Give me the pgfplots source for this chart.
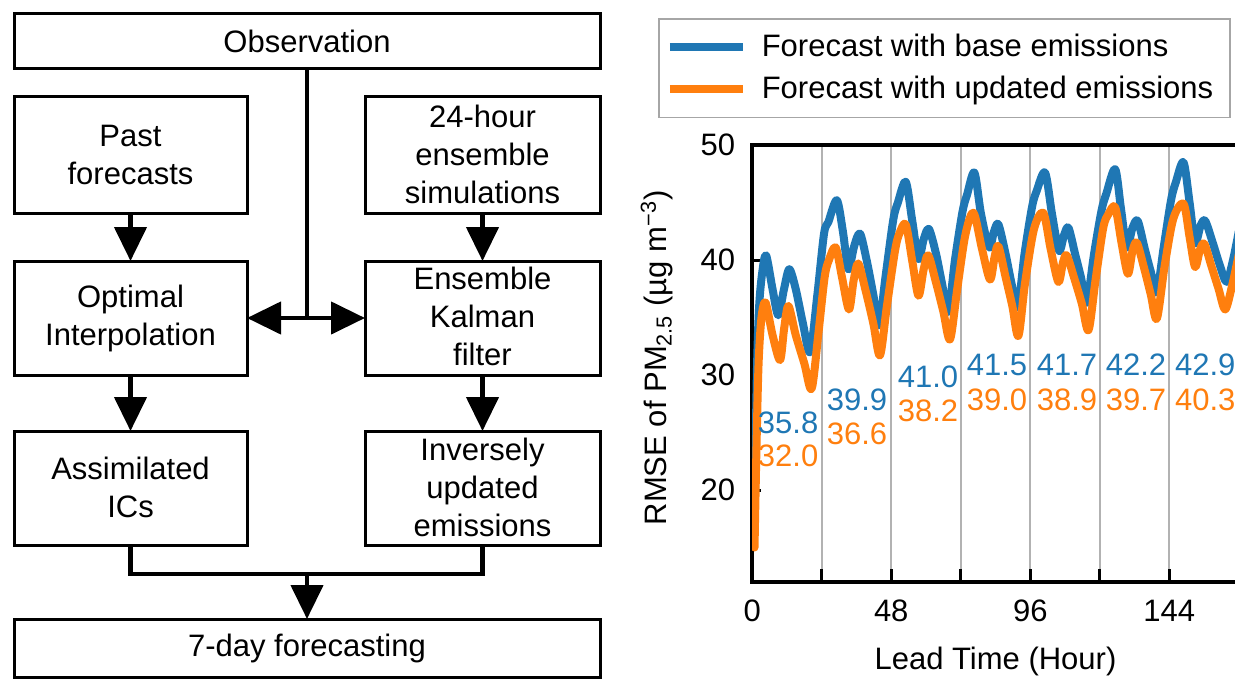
\documentclass[border=0pt]{standalone}
\usepackage{fontspec}
\setmainfont{Liberation Sans}
\usepackage{pgfplots}
\pgfplotsset{compat=1.18}
\usetikzlibrary{arrows.meta}
\definecolor{cblue}{RGB}{31,119,180}
\definecolor{corange}{RGB}{255,127,14}
\newcommand\F{\fontsize{15.5}{19}\selectfont}

% RMSE series (hour, value)
\pgfplotstableread{
h v
0.8 17
1.6 30
2.4 36
3.5 39
4.8 40.4
7 37.5
9 35.2
11 37.5
12.8 39.2
15 37.5
17.5 34.5
20 32.0
22.5 37.0
24.8 42.3
26.3 43.3
29.2 45.2
31.3 42.5
33.2 39.2
35.2 41.2
37.2 42.3
39.5 40
41.8 37
43.8 34.3
46 38.5
48.7 43.5
50.3 45
53 46.8
55.2 43.5
57.4 40.1
59.2 41.8
61 42.7
63.5 40.5
65.5 38
67.7 35.5
70 40
72.6 44.2
74.2 45.7
76.7 47.6
79 44
81.8 41.1
83.5 42.5
85 43.1
87.5 40.5
89.5 38
91.7 35.9
94 40.5
96.6 44.6
98.2 46
101.1 47.6
103.5 44
105.9 40.8
107.7 42.2
109.2 42.8
111.5 40.5
113.5 38.5
115.5 36.3
118 40.5
120.6 44.3
122.3 45.8
125.3 47.9
127.3 44.5
129.3 41.1
131.3 42.8
133.1 43.4
135.5 41
137.6 39
139.7 37.2
142 41
144.6 45.2
146.3 46.8
148.9 48.5
151 45
152.9 41.5
154.8 43
156.4 43.4
159 41.5
161.5 39.5
163.8 38.1
166 40
168 42.5
}\base

\pgfplotstableread{
h v
0.8 15
1.5 24
2.2 31
3.2 35
4.6 36.3
7 33.5
9.6 31.3
11 34
12.5 36.0
15 33.5
18 31
20.5 28.8
22.8 33.5
25 38.5
26.5 40
28.8 41.1
31 38.5
33.4 35.7
35 38.2
36.6 39.7
39 37.5
41.8 34.5
44.1 31.7
46.5 36
49.3 40.8
50.8 42.3
53 43.1
55.2 40
57.4 36.9
59.2 39.2
60.8 40.4
63.5 38
66 35.5
68.3 33.1
70.8 37.5
73.6 42.2
76.4 44.1
79.3 41
82.1 38.3
83.7 40.3
85 41.2
87.5 38.5
89.8 36
91.9 33.4
94.2 38
97.3 42.7
100.5 44.1
103 41
105.7 38.1
107.3 39.8
108.6 40.4
111.2 38.4
113.8 36.2
116.1 33.9
118.5 38.2
121.2 42.8
123 44
125.3 44.6
127.5 41.5
129.7 38.8
131.3 40.8
132.8 41.5
135.3 39.3
137.6 37
139.7 34.9
142.4 39.5
145.4 43.6
148.9 44.9
151 42
152.9 39.4
154.6 40.9
156.1 41.4
158.5 39.5
161 37.5
163.3 35.7
165.7 37.8
168 40.5
}\updated

\begin{document}
\begin{tikzpicture}[x=0.5pt, y=-0.5pt,
    box/.style={line width=1.5pt},
    conn/.style={line width=2.2pt},
    arr/.style={conn, -{Triangle[width=16pt,length=17pt]}},
    txt/.style={font=\F, align=center}]
\useasboundingbox (0,0) rectangle (1235,680);
\clip (0,0) rectangle (1235,680);

% flowchart
\draw[box] (14,13) rectangle (600,68);
\draw[box] (14,96) rectangle (247,213);
\draw[box] (365,96) rectangle (600,213);
\draw[box] (14,261) rectangle (247,375);
\draw[box] (365,261) rectangle (600,375);
\draw[box] (14,431) rectangle (247,545);
\draw[box] (365,431) rectangle (600,545);
\draw[box] (14,619) rectangle (600,677);

\draw[arr] (130.5,213) -- (130.5,261);
\draw[arr] (130.5,375) -- (130.5,431);
\draw[arr] (482.5,213) -- (482.5,261);
\draw[arr] (482.5,375) -- (482.5,431);
\draw[conn] (307,68) -- (307,318);
\draw[arr] (307,318) -- (247,318);
\draw[arr] (307,318) -- (365,318);
\draw[conn] (130.5,545) -- (130.5,574) -- (482.5,574) -- (482.5,545);
\draw[arr] (307,574) -- (307,619);

\node[txt] at (307,41) {Observation};
\node[txt] at (130.5,154.5) {Past\\forecasts};
\node[txt] at (482.5,154.5) {24-hour\\ensemble\\simulations};
\node[txt] at (130.5,318) {Optimal\\Interpolation};
\node[txt] at (482.5,316) {Ensemble\\Kalman\\filter};
\node[txt] at (130.5,487) {Assimilated\\ICs};
\node[txt] at (482.5,487) {Inversely\\updated\\emissions};
\node[txt] at (307,648) {7-day forecasting};

% RMSE panel
\begin{axis}[
    at={(376.1pt,-291pt)}, anchor=south west,
    scale only axis, width=243.3pt, height=218.5pt,
    xmin=0, xmax=168, ymin=12, ymax=50,
    xtick={0,24,...,168}, xticklabels={0,,48,,96,,144,},
    ytick={20,30,40,50},
    tick pos=left,
    xmajorgrids, grid style={gray!60, line width=0.9pt},
    axis line style={line width=2pt},
    tick style={black, line width=1.5pt},
    major tick length=4.5pt,
    xtick style={/pgfplots/major tick length=6.5pt},
    tick label style={font=\F},
    /pgf/number format/assume math mode=true,
    xticklabel style={yshift=-5.5pt},
    yticklabel style={xshift=-5pt},
    xlabel={Lead Time (Hour)},
    ylabel={RMSE of PM\textsubscript{2.5} (µg m\textsuperscript{−3})},
    label style={font=\F},
    xlabel style={at={(axis description cs:0.5,-0.181)}, anchor=center},
    ylabel style={at={(axis description cs:-0.196,0.513)}, anchor=center},
    legend cell align=left,
    legend image code/.code={\draw[#1, line cap=butt] (0pt,0pt) -- (36.5pt,0pt);},
    legend style={at={(axis description cs:-0.1936,1.2906)}, anchor=north west,
        font=\F, draw=gray!70, line width=0.8pt,
        inner xsep=3.5pt, inner ysep=3.5pt, row sep=0pt,
        nodes={inner xsep=5pt, inner ysep=4.2pt},
        /tikz/every odd column/.append style={column sep=2.5pt}},
]
\addplot[cblue, line width=4pt, smooth, line join=round, line cap=round] table[x=h, y=v] {\base};
\addlegendentry{Forecast with base emissions}
\addplot[corange, line width=4pt, smooth, line join=round, line cap=round] table[x=h, y=v] {\updated};
\addlegendentry{Forecast with updated emissions}

\node[text=cblue, font=\F] at (axis cs:12.4,25.8) {35.8};
\node[text=corange, font=\F] at (axis cs:12.4,23.0) {32.0};
\node[text=cblue, font=\F] at (axis cs:36.2,27.8) {39.9};
\node[text=corange, font=\F] at (axis cs:36.2,24.9) {36.6};
\node[text=cblue, font=\F] at (axis cs:60.7,29.8) {41.0};
\node[text=corange, font=\F] at (axis cs:60.7,26.9) {38.2};
\node[text=cblue, font=\F] at (axis cs:84.5,30.9) {41.5};
\node[text=corange, font=\F] at (axis cs:84.5,27.8) {39.0};
\node[text=cblue, font=\F] at (axis cs:108.7,30.9) {41.7};
\node[text=corange, font=\F] at (axis cs:108.7,27.8) {38.9};
\node[text=cblue, font=\F] at (axis cs:132.5,30.9) {42.2};
\node[text=corange, font=\F] at (axis cs:132.5,27.8) {39.7};
\node[text=cblue, font=\F] at (axis cs:156.4,30.9) {42.9};
\node[text=corange, font=\F] at (axis cs:156.4,27.8) {40.3};
\end{axis}
\end{tikzpicture}
\end{document}
